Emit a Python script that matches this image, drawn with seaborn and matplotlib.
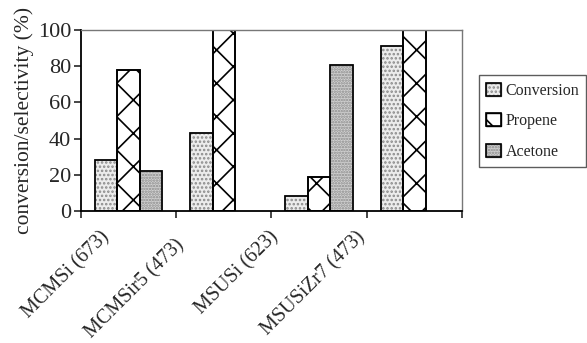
import numpy as np
import pandas as pd
import seaborn as sns
import matplotlib.pyplot as plt
from matplotlib.patches import Rectangle, Patch
from matplotlib.transforms import ScaledTranslation

# values
catalysts = ["MCMSi (673)", "MCMSir5 (473)", "MSUSi (623)", "MSUSiZr7 (473)"]
conversion = [28, 43, 8, 91]
propene = [78, 100, 19, 100]
acetone = [22, np.nan, 81, np.nan]
series = ["Conversion", "Propene", "Acetone"]

rows = []
for i, cat in enumerate(catalysts):
    for name, vals in zip(series, [conversion, propene, acetone]):
        if not np.isnan(vals[i]):
            rows.append({"catalyst": cat, "series": name, "value": vals[i]})
df = pd.DataFrame(rows)

sns.set_style("ticks")
plt.rcParams["font.family"] = ["Liberation Serif", "DejaVu Serif"]
plt.rcParams["hatch.linewidth"] = 1.2

fig = plt.figure(figsize=(5.87, 3.43), dpi=100)
ax = fig.add_axes([0.138, 0.385, 0.649, 0.527])

ax = sns.barplot(data=df, x="catalyst", y="value", hue="series",
                 order=catalysts, hue_order=series, width=0.71,
                 edgecolor="black", linewidth=1.2, legend=False, ax=ax)

# (face colour, hatch, hatch colour)
styles = {"Conversion": ("#ececec", "....", "#8a8a8a"),
          "Propene": ("white", "x", "black"),
          "Acetone": ("#d2d2d2", "......", "#8a8a8a")}
handles = []
for name, cont in zip(series, ax.containers):
    fc, hatch, hc = styles[name]
    for p in cont:
        p.set_facecolor(fc)
        p.set_hatch(hatch)
        p.set_edgecolor(hc)
        # black outline on top of the grey-hatched bar
        ax.add_patch(Rectangle(p.get_xy(), p.get_width(), p.get_height(),
                               fill=False, edgecolor="black", linewidth=1.2))
    handles.append((Patch(facecolor=fc, hatch=hatch, edgecolor=hc),
                    Patch(fill=False, edgecolor="black", linewidth=1.2)))

ax.set_ylim(0, 100)
ax.set_xlim(-0.5, 3.5)
ax.set_yticks([0, 20, 40, 60, 80, 100])
ax.tick_params(axis="y", labelsize=16, length=5, width=1.2, direction="out", pad=2)
ax.set_xticks(range(4))
ax.set_xticklabels(catalysts, rotation=45, ha="right", rotation_mode="anchor", fontsize=14.5)
ax.tick_params(axis="x", which="major", length=0, pad=14)
ax.set_xticks(np.arange(-0.5, 4, 1), minor=True)
ax.tick_params(axis="x", which="minor", length=5, width=1.2, direction="out")
ax.set_xlabel("")
ax.set_ylabel("conversion/selectivity (%)", fontsize=15.5, labelpad=3)

# shift the rotated labels to the left like the original
label_dx = [-29, -49, -50, -59]
label_dy = [-3, 5, -3, -3]
for lab, dx, dy in zip(ax.get_xticklabels(), label_dx, label_dy):
    lab.set_transform(lab.get_transform() + ScaledTranslation(dx / 100, -dy / 100, fig.dpi_scale_trans))

for s in ["left", "bottom"]:
    ax.spines[s].set_color("black")
    ax.spines[s].set_linewidth(1.3)
for s in ["top", "right"]:
    ax.spines[s].set_visible(True)
    ax.spines[s].set_color("#777777")
    ax.spines[s].set_linewidth(1.0)

leg = fig.legend(handles, series, loc="upper left", bbox_to_anchor=(0.816, 0.78),
                 fontsize=11.5, frameon=True, fancybox=False, edgecolor="#333333",
                 handlelength=0.9, handleheight=0.9, handletextpad=0.3,
                 labelspacing=0.9, borderpad=0.45, borderaxespad=0)
leg.get_frame().set_linewidth(1.0)

fig.savefig("out.png", dpi=100)
